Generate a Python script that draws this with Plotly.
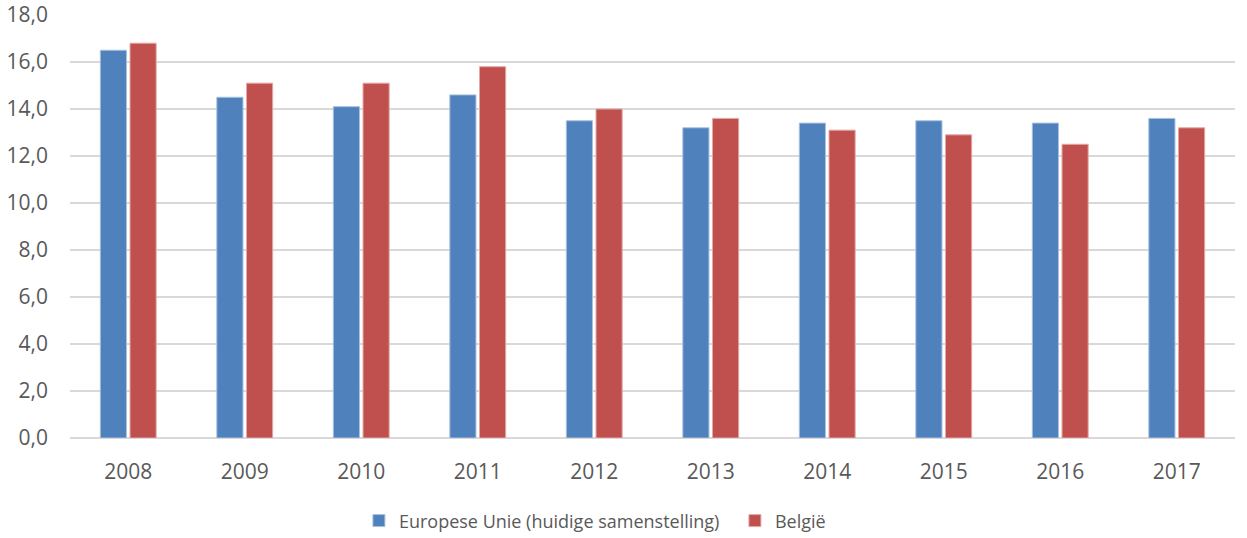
import plotly.graph_objects as go

years = ["2008", "2009", "2010", "2011", "2012", "2013", "2014", "2015", "2016", "2017"]
eu_values = [16.5, 14.5, 14.1, 14.6, 13.5, 13.2, 13.4, 13.5, 13.4, 13.6]
be_values = [16.8, 15.1, 15.1, 15.8, 14.0, 13.6, 13.1, 12.9, 12.5, 13.2]
y_ticks = [0, 2, 4, 6, 8, 10, 12, 14, 16, 18]

font_family = "Open Sans, Liberation Sans, sans-serif"
text_color = "#595959"

fig = go.Figure()
fig.add_trace(go.Bar(
    x=years, y=eu_values, name="Europese Unie (huidige samenstelling)",
    marker=dict(color="#4F81BD", line=dict(color="#A9C0DE", width=1)),
))
fig.add_trace(go.Bar(
    x=years, y=be_values, name="België",
    marker=dict(color="#C0504D", line=dict(color="#E2A9A7", width=1)),
))

fig.update_layout(
    width=1247, height=538,
    barmode="group", bargap=0.49, bargroupgap=0.12,
    separators=",.",
    plot_bgcolor="white", paper_bgcolor="white",
    margin=dict(l=70, r=12, t=15, b=100, autoexpand=False),
    font=dict(family=font_family, size=21, color=text_color),
    legend=dict(
        orientation="h", x=0.248, xanchor="left",
        y=-0.196, yanchor="middle",
        font=dict(size=18, color=text_color),
        itemwidth=30, tracegroupgap=0,
        entrywidth=331, entrywidthmode="pixels",
    ),
    yaxis=dict(
        range=[0, 18], tickvals=y_ticks, tickformat=".1f",
        showgrid=True, gridcolor="#D9D9D9", gridwidth=1.5,
        zeroline=True, zerolinecolor="#D9D9D9", zerolinewidth=1.5,
        ticks="", ticklabelstandoff=21, showline=False,
        ticklabeloverflow="allow",
    ),
    xaxis=dict(
        showgrid=False, showline=False, ticks="",
        ticklabelstandoff=19,
    ),
)

fig.write_html(
    "out.html",
    config={"displayModeBar": False},
    post_script="document.body.style.margin='0';",
)
